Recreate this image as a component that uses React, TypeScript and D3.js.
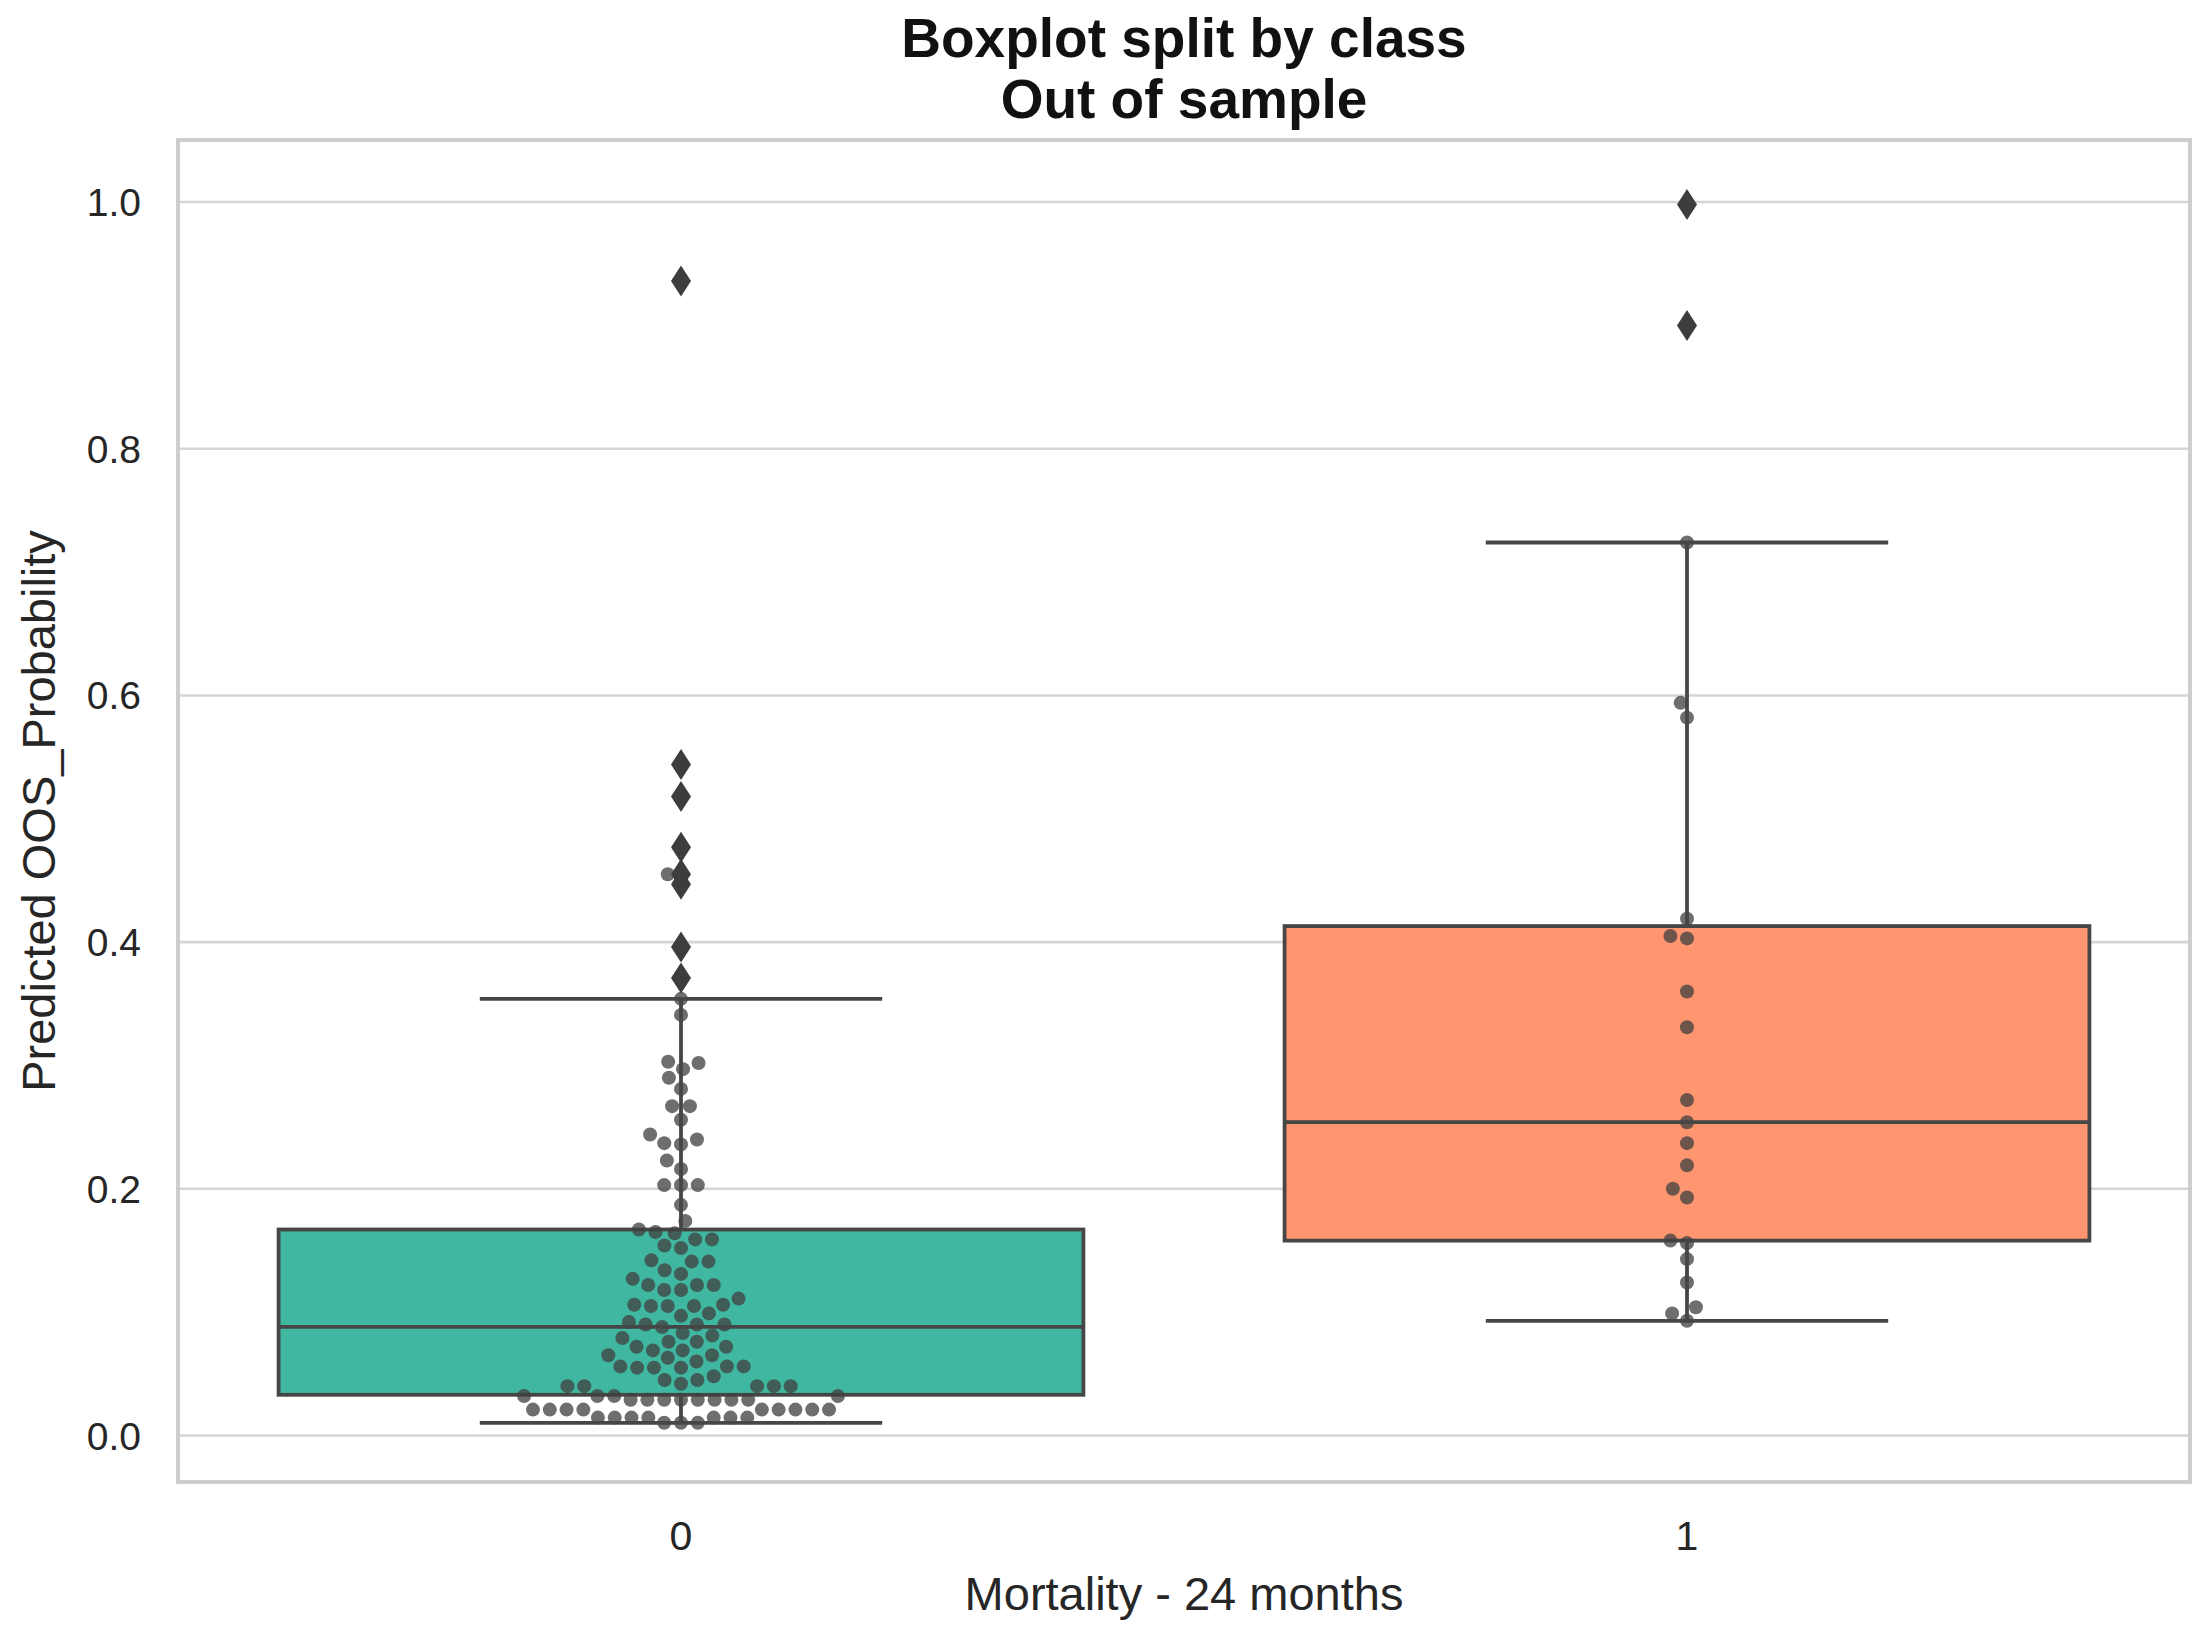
import React from "react";
import * as d3 from "d3";

const WIDTH = 2211;
const HEIGHT = 1636;

// Categories and per-class box statistics
const classes = ["0", "1"];
const boxColors = ["#40b7a0", "#ff9670"];
const q1 = [0.033, 0.158];
const medians = [0.088, 0.254];
const q3 = [0.167, 0.413];
const whiskerLow = [0.0103, 0.093];
const whiskerHigh = [0.354, 0.724];

// Individual predicted probabilities, class 0
const class0Values = [
  0.936, 0.544, 0.518, 0.477, 0.455, 0.447, 0.396, 0.371,
  0.354, 0.341, 0.303, 0.302, 0.297, 0.29, 0.281, 0.267, 0.267, 0.256,
  0.244, 0.24, 0.237, 0.236, 0.223, 0.216, 0.203, 0.203, 0.203, 0.187, 0.174,
  0.164, 0.165, 0.167, 0.159, 0.159, 0.154, 0.152, 0.142, 0.141, 0.141,
  0.131, 0.134, 0.122, 0.122, 0.118, 0.118, 0.122, 0.127, 0.106, 0.105,
  0.105, 0.105, 0.106, 0.111, 0.099, 0.09, 0.09, 0.088, 0.09, 0.092,
  0.097, 0.083, 0.076, 0.072, 0.076, 0.072, 0.079, 0.081, 0.069, 0.069,
  0.065, 0.063, 0.06, 0.065, 0.056, 0.055, 0.056, 0.056, 0.055, 0.055,
  0.045, 0.04, 0.048, 0.04, 0.04, 0.04, 0.04, 0.042, 0.045,
  0.032, 0.032, 0.032, 0.032,
  0.029, 0.029, 0.029, 0.029, 0.029, 0.029, 0.029, 0.029,
  0.021, 0.021, 0.021, 0.021, 0.021, 0.021, 0.021, 0.021, 0.021,
  0.0145, 0.0145, 0.0145, 0.0145, 0.0145, 0.0145, 0.0145,
  0.0103, 0.0103, 0.0103,
];

// Individual predicted probabilities, class 1
const class1Values = [
  0.998, 0.9, 0.724, 0.594, 0.582, 0.419, 0.405, 0.403, 0.36, 0.331, 0.272,
  0.254, 0.237, 0.219, 0.2, 0.193, 0.158, 0.156, 0.143, 0.124, 0.104, 0.099,
  0.093,
];

const pointsByClass = [class0Values, class1Values];
const yTicks = [0, 0.2, 0.4, 0.6, 0.8, 1.0];

const TITLE_LINES = ["Boxplot split by class", "Out of sample"];
const X_LABEL = "Mortality - 24 months";
const Y_LABEL = "Predicted OOS_Probability";

type Placed = { v: number; x: number; y: number };

// Beeswarm placement: points are added from lowest value upwards and each
// takes the free candidate position nearest to the category centre.
function beeswarm(values: number[], cx: number, yScale: (v: number) => number, r: number): Placed[] {
  const pts = values
    .map((v) => ({ v, x: cx, y: yScale(v) }))
    .sort((a, b) => b.y - a.y);
  const placed: Placed[] = [];
  const d = 2 * r;
  for (const p of pts) {
    const neighbors: Placed[] = [];
    for (let j = placed.length - 1; j >= 0; j--) {
      const q = placed[j];
      if (Math.abs(p.y - q.y) < d) neighbors.push(q);
      else break;
    }
    const candidates: number[] = [cx];
    let leftFirst = true;
    for (const q of neighbors) {
      const dy = p.y - q.y;
      const dx = Math.sqrt(Math.max(d * d - dy * dy, 0)) * 1.05;
      if (leftFirst) candidates.push(q.x - dx, q.x + dx);
      else candidates.push(q.x + dx, q.x - dx);
      leftFirst = !leftFirst;
    }
    const order = candidates
      .map((x, i) => ({ x, i }))
      .sort((a, b) => Math.abs(a.x - cx) - Math.abs(b.x - cx) || a.i - b.i);
    let chosen = cx;
    for (const c of order) {
      const ok = neighbors.every((q) => {
        const ddx = c.x - q.x;
        const ddy = p.y - q.y;
        return ddx * ddx + ddy * ddy >= d * d - 1e-6;
      });
      if (ok) {
        chosen = c.x;
        break;
      }
    }
    placed.push({ v: p.v, x: chosen, y: p.y });
  }
  return placed;
}

function diamondPath(cx: number, cy: number, w: number, h: number): string {
  const p = d3.path();
  p.moveTo(cx, cy - h / 2);
  p.lineTo(cx + w / 2, cy);
  p.lineTo(cx, cy + h / 2);
  p.lineTo(cx - w / 2, cy);
  p.closePath();
  return p.toString();
}

export default function App() {
  const left = 178;
  const right = 2190;
  const top = 140;
  const bottom = 1482;

  const x = d3.scaleBand<string>().domain(classes).range([left, right]).padding(0);
  const y = d3.scaleLinear().domain([-0.0377, 1.0503]).range([bottom, top]);

  const boxW = x.bandwidth() * 0.8;
  const capW = boxW / 2;
  const lineColor = "#464646";
  const lineW = 3.8;
  const font = "'Liberation Sans', Arial, Helvetica, sans-serif";
  const textColor = "#262626";

  return (
    <svg
      width={WIDTH}
      height={HEIGHT}
      style={{ position: "absolute", left: 0, top: 0, background: "#ffffff" }}
    >
      <rect x={0} y={0} width={WIDTH} height={HEIGHT} fill="#ffffff" />

      {/* horizontal grid */}
      {yTicks.map((t) => (
        <line key={t} x1={left} x2={right} y1={y(t)} y2={y(t)} stroke="#d5d5d5" strokeWidth={2.6} />
      ))}

      {/* frame */}
      <rect x={left} y={top} width={right - left} height={bottom - top} fill="none" stroke="#cccccc" strokeWidth={3.8} />

      {/* y tick labels */}
      {yTicks.map((t) => (
        <text
          key={t}
          x={141}
          y={y(t)}
          dy="0.36em"
          textAnchor="end"
          fontFamily={font}
          fontSize={39}
          fill={textColor}
        >
          {d3.format(".1f")(t)}
        </text>
      ))}

      {/* x tick labels */}
      {classes.map((c) => (
        <text
          key={c}
          x={(x(c) ?? 0) + x.bandwidth() / 2}
          y={1550}
          textAnchor="middle"
          fontFamily={font}
          fontSize={41}
          fill={textColor}
        >
          {c}
        </text>
      ))}

      {/* boxes */}
      {classes.map((c, i) => {
        const cx = (x(c) ?? 0) + x.bandwidth() / 2;
        return (
          <rect
            key={c}
            x={cx - boxW / 2}
            y={y(q3[i])}
            width={boxW}
            height={y(q1[i]) - y(q3[i])}
            fill={boxColors[i]}
            stroke={lineColor}
            strokeWidth={lineW}
          />
        );
      })}

      {/* swarm points */}
      {classes.map((c, i) => {
        const cx = (x(c) ?? 0) + x.bandwidth() / 2;
        const pts = beeswarm(pointsByClass[i], cx, y, 8);
        return (
          <g key={c}>
            {pts.map((p, k) => (
              <circle key={k} cx={p.x} cy={p.y} r={7} fill="#404040" fillOpacity={0.76} />
            ))}
          </g>
        );
      })}

      {/* whiskers, caps, medians, outliers */}
      {classes.map((c, i) => {
        const cx = (x(c) ?? 0) + x.bandwidth() / 2;
        const outliers = pointsByClass[i].filter((v) => v > whiskerHigh[i] || v < whiskerLow[i]);
        return (
          <g key={c} stroke={lineColor} strokeWidth={lineW}>
            <line x1={cx} x2={cx} y1={y(q3[i])} y2={y(whiskerHigh[i])} />
            <line x1={cx} x2={cx} y1={y(q1[i])} y2={y(whiskerLow[i])} />
            <line x1={cx - capW / 2} x2={cx + capW / 2} y1={y(whiskerHigh[i])} y2={y(whiskerHigh[i])} />
            <line x1={cx - capW / 2} x2={cx + capW / 2} y1={y(whiskerLow[i])} y2={y(whiskerLow[i])} />
            <line x1={cx - boxW / 2} x2={cx + boxW / 2} y1={y(medians[i])} y2={y(medians[i])} />
            {outliers.map((v, k) => (
              <path key={k} d={diamondPath(cx, y(v), 20, 31)} fill="#3d3d3d" stroke="none" />
            ))}
          </g>
        );
      })}

      {/* axis labels */}
      <text
        x={(left + right) / 2}
        y={1610}
        textAnchor="middle"
        fontFamily={font}
        fontSize={47}
        fill={textColor}
      >
        {X_LABEL}
      </text>
      <text
        transform={`translate(55, ${(top + bottom) / 2}) rotate(-90)`}
        textAnchor="middle"
        fontFamily={font}
        fontSize={47}
        fill={textColor}
      >
        {Y_LABEL}
      </text>

      {/* title */}
      {TITLE_LINES.map((line, i) => (
        <text
          key={i}
          x={(left + right) / 2}
          y={57 + i * 61}
          textAnchor="middle"
          fontFamily={font}
          fontSize={55}
          fontWeight="bold"
          fill="#111111"
        >
          {line}
        </text>
      ))}
    </svg>
  );
}
